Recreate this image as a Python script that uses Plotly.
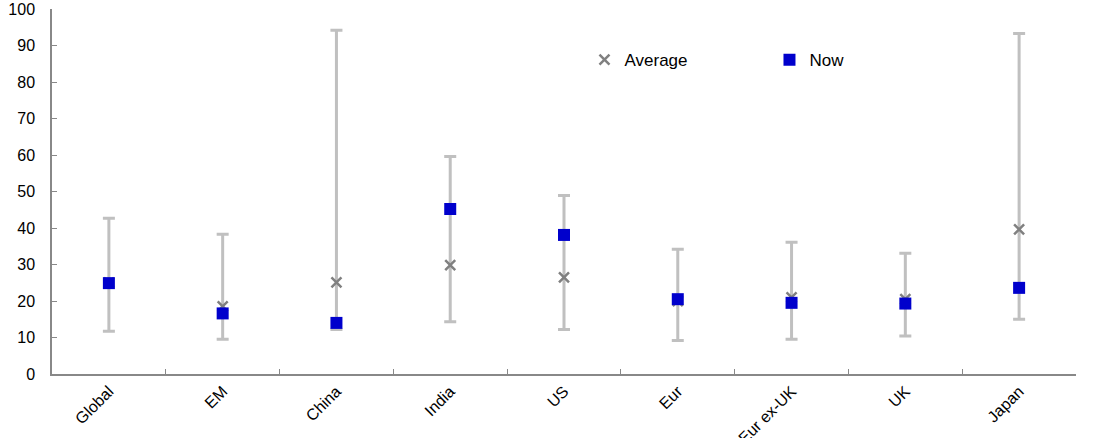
import plotly.graph_objects as go

categories = ["Global", "EM", "China", "India", "US", "Eur", "Eur ex-UK", "UK", "Japan"]
range_low = [11.7, 9.5, 12.2, 14.3, 12.2, 9.2, 9.5, 10.4, 15.0]
range_high = [42.7, 38.3, 94.2, 59.6, 48.9, 34.2, 36.1, 33.1, 93.3]
average = [25.0, 18.5, 25.1, 29.8, 26.5, 20.0, 21.0, 20.5, 39.6]
now = [24.9, 16.6, 14.0, 45.2, 38.1, 20.5, 19.5, 19.3, 23.6]

fig = go.Figure()

fig.add_trace(go.Scatter(
    x=categories, y=range_low, mode="markers",
    marker=dict(size=1, opacity=0),
    error_y=dict(type="data", symmetric=False,
                 array=[h - l for h, l in zip(range_high, range_low)],
                 arrayminus=[0] * len(range_low),
                 color="#c0c0c0", thickness=3, width=6),
    showlegend=False, hoverinfo="skip",
))

fig.add_trace(go.Scatter(
    x=categories, y=average, mode="markers", name="Average",
    marker=dict(symbol="x-thin", size=10, line=dict(color="#808080", width=2.5), color="#808080"),
))

fig.add_trace(go.Scatter(
    x=categories, y=now, mode="markers", name="Now",
    marker=dict(symbol="square", size=12, color="#0000cc"),
))

fig.update_layout(
    width=1108, height=438,
    margin=dict(l=52, r=32, t=9, b=64, autoexpand=False),
    paper_bgcolor="white", plot_bgcolor="white",
    font=dict(family="Liberation Sans, Arial, sans-serif", size=16, color="#000000"),
    showlegend=True,
    legend=dict(orientation="h", x=0.52, y=0.86, xanchor="left", yanchor="middle",
                entrywidth=140, font=dict(size=17), bgcolor="rgba(0,0,0,0)",
                itemclick=False, itemdoubleclick=False),
    xaxis=dict(
        type="category", tickson="boundaries", ticks="inside", ticklen=5,
        tickcolor="#888888", showline=True, linecolor="#888888", linewidth=1.5,
        showgrid=False, tickangle=-45, tickfont=dict(size=16),
        range=[-0.5, 8.5], automargin=False,
    ),
    yaxis=dict(
        range=[0, 100], dtick=10, ticks="inside", ticklen=5, tickcolor="#888888",
        showline=True, linecolor="#888888", linewidth=1.5, showgrid=False,
        zeroline=False, tickfont=dict(size=16), ticklabelstandoff=12,
        automargin=False, ticklabeloverflow="allow",
    ),
)

fig.write_html("out.html", config={"displayModeBar": False},
               post_script="document.body.style.margin='0';")
